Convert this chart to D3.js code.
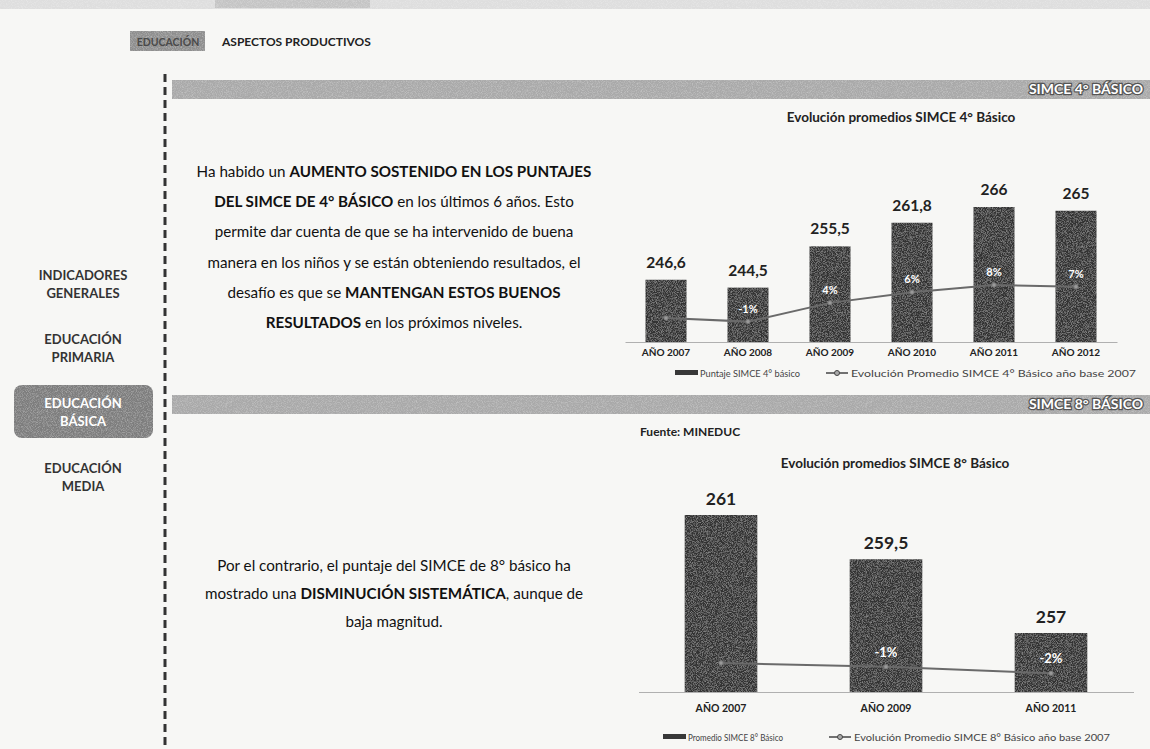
<!DOCTYPE html>
<html>
<head>
<meta charset="utf-8">
<script src="https://cdn.jsdelivr.net/npm/d3@7"></script>
<style>
  body { margin: 0; background: #f7f7f5; }
  svg { display: block; font-family: Lato, "Open Sans", sans-serif; }
</style>
</head>
<body>
<svg id="page" width="1150" height="749"></svg>
<script>
// SIMCE 4° básico
const years4 = ["AÑO 2007", "AÑO 2008", "AÑO 2009", "AÑO 2010", "AÑO 2011", "AÑO 2012"];
const puntaje4 = [246.6, 244.5, 255.5, 261.8, 266, 265];
const evol4 = [0, -0.0085, 0.0361, 0.0616, 0.0787, 0.0746];

// SIMCE 8° básico
const years8 = ["AÑO 2007", "AÑO 2009", "AÑO 2011"];
const puntaje8 = [261, 259.5, 257];
const evol8 = [0, -0.0057, -0.0153];

const menu = [["INDICADORES", "GENERALES"], ["EDUCACIÓN", "PRIMARIA"], ["EDUCACIÓN", "BÁSICA"], ["EDUCACIÓN", "MEDIA"]];

const svg = d3.select("#page");

// grain filter, to get the scanned look
const defs = svg.append("defs");
const f = defs.append("filter").attr("id", "grain").attr("x", 0).attr("y", 0).attr("width", 1).attr("height", 1);
f.append("feTurbulence").attr("type", "fractalNoise").attr("baseFrequency", 1.2).attr("numOctaves", 1).attr("seed", 3).attr("result", "n");
f.append("feColorMatrix").attr("in", "n").attr("type", "matrix")
  .attr("values", "0 0 0 0 1  0 0 0 0 1  0 0 0 0 1  0 0 0 0.6 -0.25").attr("result", "g");
f.append("feComposite").attr("in", "g").attr("in2", "SourceGraphic").attr("operator", "in").attr("result", "gi");
f.append("feMerge").call(m => { m.append("feMergeNode").attr("in", "SourceGraphic"); m.append("feMergeNode").attr("in", "gi"); });

// top strip
svg.append("rect").attr("x", 0).attr("y", 0).attr("width", 1150).attr("height", 9).attr("fill", "#dedede").attr("filter", "url(#grain)");
svg.append("rect").attr("x", 215).attr("y", 0).attr("width", 155).attr("height", 8).attr("fill", "#c4c4c4").attr("filter", "url(#grain)");

// tabs
svg.append("rect").attr("x", 130).attr("y", 31).attr("width", 75).attr("height", 20).attr("fill", "#8e8e8e").attr("filter", "url(#grain)");
svg.append("text").attr("x", 168).attr("y", 45.5).attr("text-anchor", "middle")
  .attr("font-size", 10.5).attr("font-weight", "bold").attr("fill", "#4a4a4a").text("EDUCACIÓN");
svg.append("text").attr("x", 222).attr("y", 46)
  .attr("font-size", 12).attr("font-weight", "bold").attr("fill", "#222").text("ASPECTOS PRODUCTIVOS");

// dashed separator
svg.append("line").attr("x1", 165).attr("x2", 165).attr("y1", 74).attr("y2", 749)
  .attr("stroke", "#333").attr("stroke-width", 3).attr("stroke-dasharray", "8,5");

// side menu
const menuY = [275, 339, 403, 468];
menu.forEach((m, i) => {
  const sel = i === 2;
  if (sel) {
    svg.append("rect").attr("x", 14).attr("y", 385).attr("width", 139).attr("height", 53).attr("rx", 8)
      .attr("fill", "#7d7d7d").attr("filter", "url(#grain)");
  }
  m.forEach((t, j) => {
    svg.append("text").attr("x", 83).attr("y", menuY[i] + j * 18 + 5).attr("text-anchor", "middle")
      .attr("font-size", 13).attr("font-weight", "bold").attr("fill", sel ? "#fff" : "#333").text(t);
  });
});

// section banners
function banner(y, label) {
  svg.append("rect").attr("x", 172).attr("y", y).attr("width", 978).attr("height", 19)
    .attr("fill", "#a9a9a9").attr("filter", "url(#grain)");
  svg.append("text").attr("x", 1143).attr("y", y + 14).attr("text-anchor", "end")
    .attr("font-size", 14).attr("font-weight", "bold").attr("fill", "#fff")
    .attr("stroke", "#555").attr("stroke-width", 2.5).attr("paint-order", "stroke").text(label);
}
banner(80, "SIMCE 4° BÁSICO");
banner(395, "SIMCE 8° BÁSICO");

// paragraphs with bold runs
function paragraph(lines, y0, dy, size) {
  lines.forEach((parts, i) => {
    const t = svg.append("text").attr("x", 394).attr("y", y0 + i * dy).attr("text-anchor", "middle")
      .attr("font-size", size).attr("fill", "#111");
    parts.forEach(p => t.append("tspan").attr("font-weight", p[1] ? "bold" : "normal").text(p[0]));
  });
}
paragraph([
  [["Ha habido un ", 0], ["AUMENTO SOSTENIDO EN LOS PUNTAJES", 1]],
  [["DEL SIMCE DE 4° BÁSICO", 1], [" en los últimos 6 años. Esto", 0]],
  [["permite dar cuenta  de que se ha intervenido de buena", 0]],
  [["manera en los niños y se están obteniendo resultados, el", 0]],
  [["desafío es que se ", 0], ["MANTENGAN ESTOS BUENOS", 1]],
  [["RESULTADOS", 1], [" en los próximos niveles.", 0]]
], 177, 30.2, 15.2);
paragraph([
  [["Por el contrario, el puntaje del SIMCE de 8° básico ha", 0]],
  [["mostrado una ", 0], ["DISMINUCIÓN SISTEMÁTICA", 1], [", aunque de", 0]],
  [["baja magnitud.", 0]]
], 571, 28, 15.2);

svg.append("text").attr("x", 640).attr("y", 436).attr("font-size", 12).attr("font-weight", "bold")
  .attr("fill", "#222").text("Fuente: MINEDUC");

const fmtVal = v => String(v).replace(".", ",");
const fmtPct = p => Math.round(p * 100) + "%";

function chart(o) {
  const g = svg.append("g");
  g.append("text").attr("x", o.titleX).attr("y", o.titleY).attr("text-anchor", "middle")
    .attr("font-size", 13.5).attr("font-weight", "bold").attr("fill", "#222").text(o.title);

  const x = d3.scaleBand().domain(o.cats).range(o.xr).paddingInner(o.pi).paddingOuter(o.pi / 2);
  const y = d3.scaleLinear().domain(o.yd).range([o.base, o.top]);
  const yp = d3.scaleLinear().domain(o.pd).range([o.base, o.top]);

  g.selectAll(".bar").data(o.vals).join("rect")
    .attr("x", (d, i) => x(o.cats[i])).attr("width", x.bandwidth())
    .attr("y", d => y(d)).attr("height", d => o.base - y(d))
    .attr("fill", "#333").attr("filter", "url(#grain)");

  g.selectAll(".val").data(o.vals).join("text")
    .attr("x", (d, i) => x(o.cats[i]) + x.bandwidth() / 2).attr("y", d => y(d) - o.valGap)
    .attr("text-anchor", "middle").attr("font-size", o.valSize).attr("font-weight", "bold")
    .attr("fill", "#222").text(fmtVal);

  const ax = g.append("g").attr("transform", `translate(0,${o.base})`)
    .call(d3.axisBottom(x).tickSize(0).tickPadding(o.tickPad));
  ax.select(".domain").attr("stroke", "#b0b0b0");
  ax.selectAll("text").attr("font-size", o.tickSize).attr("font-weight", "bold")
    .attr("fill", "#222").attr("font-family", "Lato, sans-serif");

  const pts = o.pct.map((p, i) => [x(o.cats[i]) + x.bandwidth() / 2, yp(p)]);
  g.append("path").attr("d", d3.line()(pts)).attr("fill", "none").attr("stroke", "#6a6a6a").attr("stroke-width", 2);
  g.selectAll(".pt").data(pts).join("circle").attr("cx", d => d[0]).attr("cy", d => d[1]).attr("r", 2.2)
    .attr("fill", "#999").attr("stroke", "#777");
  g.selectAll(".pl").data(o.pct.slice(1)).join("text")
    .attr("x", (d, i) => pts[i + 1][0]).attr("y", (d, i) => pts[i + 1][1] - o.pctGap)
    .attr("text-anchor", "middle").attr("font-size", o.pctSize).attr("font-weight", "bold")
    .attr("fill", "#fff").text(fmtPct);

  // legend
  const lg = g.append("g").attr("font-size", 9.5).attr("fill", "#444");
  lg.append("rect").attr("x", o.lx1).attr("y", o.ly - 3).attr("width", 23).attr("height", 5).attr("fill", "#383838");
  lg.append("text").attr("x", o.lx1 + 25).attr("y", o.ly + 3.5).attr("textLength", o.lw1).attr("lengthAdjust", "spacingAndGlyphs").text(o.leg1);
  lg.append("line").attr("x1", o.lx2).attr("x2", o.lx2 + 22).attr("y1", o.ly).attr("y2", o.ly).attr("stroke", "#444").attr("stroke-width", 1.5);
  lg.append("circle").attr("cx", o.lx2 + 11).attr("cy", o.ly).attr("r", 2.5).attr("fill", "#aaa").attr("stroke", "#444");
  lg.append("text").attr("x", o.lx2 + 25).attr("y", o.ly + 3.5).attr("textLength", o.lw2).attr("lengthAdjust", "spacingAndGlyphs").text(o.leg2);
}

chart({
  title: "Evolución promedios SIMCE 4° Básico", titleX: 901, titleY: 122,
  cats: years4, vals: puntaje4, pct: evol4,
  xr: [625, 1117], pi: 0.5, base: 342, top: 192,
  yd: [230, 270], pd: [-0.057, 0.30],
  valGap: 12, valSize: 15.5, tickPad: 7, tickSize: 10, pctGap: 9, pctSize: 11,
  lx1: 675, lx2: 826, ly: 373, lw1: 100, lw2: 285,
  leg1: "Puntaje SIMCE 4° básico", leg2: "Evolución Promedio SIMCE 4° Básico año base 2007"
});

chart({
  title: "Evolución promedios SIMCE 8° Básico", titleX: 895, titleY: 468,
  cats: years8, vals: puntaje8, pct: evol8,
  xr: [638.5, 1133.5], pi: 0.56, base: 692, top: 485.5,
  yd: [255, 262], pd: [-0.0433, 0.265],
  valGap: 10, valSize: 17.5, tickPad: 13, tickSize: 10.5, pctGap: 10, pctSize: 13,
  lx1: 663, lx2: 829, ly: 737, lw1: 95, lw2: 256,
  leg1: "Promedio SIMCE 8° Básico", leg2: "Evolución Promedio SIMCE 8° Básico año base 2007"
});
</script>
</body>
</html>
